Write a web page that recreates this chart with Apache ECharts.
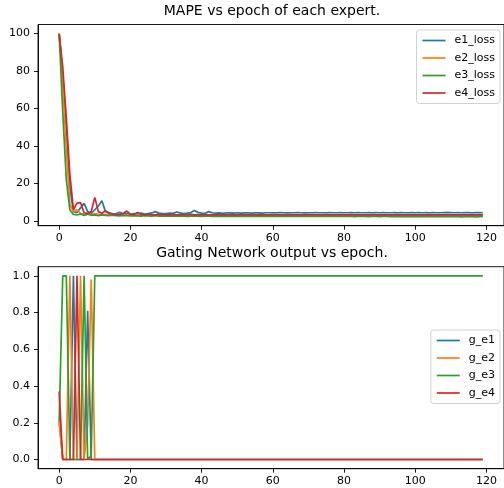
<!DOCTYPE html>
<html>
<head>
<meta charset="utf-8">
<script src="https://cdn.jsdelivr.net/npm/echarts@6/dist/echarts.min.js"></script>
<style>html,body{margin:0;padding:0;background:#fff;}#c{width:504px;height:488px;}</style>
</head>
<body>
<div id="c"></div>
<script>
const epochs = Array.from({length: 120}, (_, i) => i);
const xTicks = [0, 20, 40, 60, 80, 100, 120];
const topYTicks = [0, 20, 40, 60, 80, 100];
const botYTicks = [0, 0.2, 0.4, 0.6, 0.8, 1.0];

const e1_loss = [99.5, 78, 48, 18, 5, 4.5, 7, 9.4, 5, 4,
 6, 8, 10.8, 5, 4.5, 3.8, 4, 4.6, 3.8, 4,
 3.6, 4, 3.8, 4.2, 3.7, 4, 4.3, 5, 4.2, 3.9,
 4, 4.2, 4.1, 4.8, 4.3, 4, 4.2, 4.5, 5.6, 4.6,
 4.2, 4.1, 5, 4.4, 4.2, 4.3, 4.1, 4.4, 4.3, 4.2,
 4.4, 4.2, 4.3, 4.4, 4.2, 4.4, 4.3, 4.2, 4.4, 4.4,
 4.3, 4.4, 4.5, 4.4, 4.3, 4.4, 4.4, 4.5, 4.4, 4.3,
 4.4, 4.4, 4.5, 4.4, 4.4, 4.4, 4.5, 4.4, 4.4, 4.5,
 4.4, 4.4, 4.5, 4.4, 4.5, 4.4, 4.4, 4.5, 4.4, 4.5,
 4.4, 4.5, 4.4, 4.4, 4.5, 4.4, 4.5, 4.4, 4.4, 4.5,
 4.4, 4.5, 4.4, 4.5, 4.4, 4.5, 4.4, 4.4, 4.5, 4.6,
 4.5, 4.4, 4.5, 4.4, 4.5, 4.5, 4.4, 4.5, 4.5, 4.4];
const e2_loss = [99.6, 74, 38, 9, 5, 6, 4, 3.5, 4.2, 3.4,
 4, 3.5, 3.2, 3.6, 3.3, 3.1, 3.4, 3.2, 3, 3.3,
 3.1, 3.2, 3, 3.3, 3.1, 3, 3.2, 3.1, 3, 3.2,
 3.1, 3, 3.1, 3.2, 3, 3.1, 3, 3.2, 3.1, 3,
 3.1, 3, 3.1, 3, 3.1, 3, 3, 3.1, 3, 3.1,
 3, 3.1, 3, 3, 3.1, 3, 3, 3.1, 3, 3,
 3.1, 3, 3, 3.1, 3, 3, 3, 3.1, 3, 3,
 3, 3.1, 3, 3, 3, 3.1, 3, 3, 3, 3,
 3.1, 3, 3, 3, 3, 3.1, 3, 3, 3, 3,
 3, 3.1, 3, 3, 3, 3, 3, 3.1, 3, 3,
 3, 3, 3, 3.1, 3, 3, 3, 3, 3, 3,
 3.1, 3, 3, 3, 3, 3, 3, 3, 3, 3];
const e3_loss = [99.4, 58, 22, 6, 3.5, 3.2, 3.8, 3, 3.6, 3.1,
 3.3, 2.9, 3.2, 3, 2.8, 3.1, 2.9, 2.7, 3, 2.8,
 2.7, 2.9, 2.7, 2.6, 2.8, 2.7, 2.6, 2.8, 2.6, 2.7,
 2.6, 2.7, 2.6, 2.6, 2.7, 2.6, 2.5, 2.6, 2.7, 2.6,
 2.5, 2.6, 2.6, 2.5, 2.6, 2.5, 2.6, 2.5, 2.5, 2.6,
 2.5, 2.5, 2.6, 2.5, 2.5, 2.5, 2.6, 2.5, 2.5, 2.5,
 2.5, 2.4, 2.5, 2.5, 2.4, 2.5, 2.5, 2.4, 2.5, 2.4,
 2.4, 2.5, 2.4, 2.4, 2.5, 2.4, 2.4, 2.4, 2.5, 2.4,
 2.4, 2.4, 2.4, 2.3, 2.4, 2.4, 2.4, 2.3, 2.4, 2.4,
 2.3, 2.4, 2.4, 2.3, 2.4, 2.3, 2.4, 2.3, 2.3, 2.4,
 2.3, 2.3, 2.4, 2.3, 2.3, 2.3, 2.4, 2.3, 2.3, 2.3,
 2.3, 2.3, 2.3, 2.2, 2.3, 2.3, 2.3, 2.2, 2.3, 2.3];
const e4_loss = [100, 82, 55, 25, 6, 9.5, 9.8, 4.4, 4, 5,
 12.6, 5, 4, 5.5, 4, 3.6, 3.4, 3.5, 4, 5.3,
 3.6, 3.4, 4.6, 3.5, 3.3, 3.6, 3.4, 3.3, 3.5, 3.4,
 3.3, 3.4, 3.5, 3.3, 3.4, 3.3, 3.4, 3.5, 3.3, 3.4,
 3.3, 3.4, 3.3, 3.4, 3.3, 3.3, 3.4, 3.3, 3.4, 3.3,
 3.3, 3.4, 3.3, 3.3, 3.4, 3.3, 3.3, 3.4, 3.3, 3.3,
 3.3, 3.4, 3.3, 3.3, 3.3, 3.4, 3.3, 3.3, 3.3, 3.3,
 3.4, 3.3, 3.3, 3.3, 3.3, 3.4, 3.3, 3.3, 3.3, 3.3,
 3.3, 3.3, 3.4, 3.3, 3.3, 3.3, 3.3, 3.3, 3.4, 3.3,
 3.3, 3.3, 3.3, 3.3, 3.3, 3.4, 3.3, 3.3, 3.3, 3.3,
 3.3, 3.3, 3.3, 3.3, 3.4, 3.3, 3.3, 3.3, 3.3, 3.3,
 3.3, 3.3, 3.3, 3.3, 3.3, 3.3, 3.4, 3.3, 3.3, 3.3];

const g_e1 = [0.21, 0, 0, 0, 1, 0, 0, 0, 0.81, 0,
 0,0,0,0,0,0,0,0,0,0, 0,0,0,0,0,0,0,0,0,0,
 0,0,0,0,0,0,0,0,0,0, 0,0,0,0,0,0,0,0,0,0,
 0,0,0,0,0,0,0,0,0,0, 0,0,0,0,0,0,0,0,0,0,
 0,0,0,0,0,0,0,0,0,0, 0,0,0,0,0,0,0,0,0,0,
 0,0,0,0,0,0,0,0,0,0, 0,0,0,0,0,0,0,0,0,0,
 0,0,0,0,0,0,0,0,0,0];
const g_e2 = [0.21, 0, 0, 1, 0, 0, 1, 0, 0.19, 0.98,
 0,0,0,0,0,0,0,0,0,0, 0,0,0,0,0,0,0,0,0,0,
 0,0,0,0,0,0,0,0,0,0, 0,0,0,0,0,0,0,0,0,0,
 0,0,0,0,0,0,0,0,0,0, 0,0,0,0,0,0,0,0,0,0,
 0,0,0,0,0,0,0,0,0,0, 0,0,0,0,0,0,0,0,0,0,
 0,0,0,0,0,0,0,0,0,0, 0,0,0,0,0,0,0,0,0,0,
 0,0,0,0,0,0,0,0,0,0];
const g_e3 = [0.21, 1, 1, 0, 0, 0, 0, 1, 0, 0.02,
 1,1,1,1,1,1,1,1,1,1, 1,1,1,1,1,1,1,1,1,1,
 1,1,1,1,1,1,1,1,1,1, 1,1,1,1,1,1,1,1,1,1,
 1,1,1,1,1,1,1,1,1,1, 1,1,1,1,1,1,1,1,1,1,
 1,1,1,1,1,1,1,1,1,1, 1,1,1,1,1,1,1,1,1,1,
 1,1,1,1,1,1,1,1,1,1, 1,1,1,1,1,1,1,1,1,1,
 1,1,1,1,1,1,1,1,1,1];
const g_e4 = [0.37, 0, 0, 0, 0, 1, 0, 0, 0, 0,
 0,0,0,0,0,0,0,0,0,0, 0,0,0,0,0,0,0,0,0,0,
 0,0,0,0,0,0,0,0,0,0, 0,0,0,0,0,0,0,0,0,0,
 0,0,0,0,0,0,0,0,0,0, 0,0,0,0,0,0,0,0,0,0,
 0,0,0,0,0,0,0,0,0,0, 0,0,0,0,0,0,0,0,0,0,
 0,0,0,0,0,0,0,0,0,0, 0,0,0,0,0,0,0,0,0,0,
 0,0,0,0,0,0,0,0,0,0];

const colors = ['#1f77b4', '#ff7f0e', '#2ca02c', '#d62728'];
const FONT = 'DejaVu Sans';
const pairs = arr => epochs.map((e, i) => [e, arr[i]]);

function xAxis(gi) {
  return {
    type: 'value', gridIndex: gi, min: -5.95, max: 124.95,
    axisLine: {show: true, onZero: false, lineStyle: {color: '#000', width: 0.9}},
    axisTick: {show: true, length: 4, lineStyle: {color: '#000', width: 0.9}, customValues: xTicks},
    axisLabel: {show: true, margin: 7, fontFamily: FONT, fontSize: 11, color: '#000', customValues: xTicks},
    splitLine: {show: false}
  };
}
function yAxis(gi, min, max, ticks, fmt) {
  return {
    type: 'value', gridIndex: gi, min: min, max: max,
    axisLine: {show: true, onZero: false, lineStyle: {color: '#000', width: 0.9}},
    axisTick: {show: true, length: 4, lineStyle: {color: '#000', width: 0.9}, customValues: ticks},
    axisLabel: {show: true, margin: 8, fontFamily: FONT, fontSize: 11, color: '#000', customValues: ticks, formatter: fmt},
    splitLine: {show: false}
  };
}
function line(name, arr, idx, gi) {
  return {
    name: name, type: 'line', xAxisIndex: gi, yAxisIndex: gi,
    data: pairs(arr), symbol: 'none', showSymbol: false,
    lineStyle: {color: colors[idx], width: 1.7}, itemStyle: {color: colors[idx]},
    animation: false, silent: true
  };
}
const legendCommon = {
  orient: 'vertical', icon: 'rect', itemWidth: 23, itemHeight: 1.7, itemGap: 6.5,
  textStyle: {fontFamily: FONT, fontSize: 11, color: '#000', padding: [0, 0, 0, 4]},
  backgroundColor: 'rgba(255,255,255,0.8)', borderColor: '#cccccc', borderWidth: 0.9, borderRadius: 3,
  padding: [5, 5, 5, 6]
};

const chart = echarts.init(document.getElementById('c'), null, {renderer: 'canvas'});
chart.setOption({
  animation: false,
  backgroundColor: '#fff',
  title: [
    {text: 'MAPE vs epoch of each expert.', left: 272, top: 4, textAlign: 'center', padding: 0,
     textStyle: {fontFamily: FONT, fontSize: 14, fontWeight: 'normal', color: '#000'}},
    {text: 'Gating Network output vs epoch.', left: 272, top: 246, textAlign: 'center', padding: 0,
     textStyle: {fontFamily: FONT, fontSize: 14, fontWeight: 'normal', color: '#000'}}
  ],
  grid: [
    {left: 38, top: 24.5, width: 469, height: 201.2, show: true, borderColor: '#000', borderWidth: 0.9, backgroundColor: 'transparent'},
    {left: 38, top: 266.7, width: 469, height: 202, show: true, borderColor: '#000', borderWidth: 0.9, backgroundColor: 'transparent'}
  ],
  xAxis: [xAxis(0), xAxis(1)],
  yAxis: [
    yAxis(0, -2.5, 104.7, topYTicks, v => String(v)),
    yAxis(1, -0.05, 1.05, botYTicks, v => v.toFixed(1))
  ],
  legend: [
    Object.assign({}, legendCommon, {data: ['e1_loss', 'e2_loss', 'e3_loss', 'e4_loss'], right: 4, top: 30}),
    Object.assign({}, legendCommon, {data: ['g_e1', 'g_e2', 'g_e3', 'g_e4'], right: 4, top: 330})
  ],
  series: [
    line('e1_loss', e1_loss, 0, 0),
    line('e2_loss', e2_loss, 1, 0),
    line('e3_loss', e3_loss, 2, 0),
    line('e4_loss', e4_loss, 3, 0),
    line('g_e1', g_e1, 0, 1),
    line('g_e2', g_e2, 1, 1),
    line('g_e3', g_e3, 2, 1),
    line('g_e4', g_e4, 3, 1)
  ]
});
</script>
</body>
</html>
